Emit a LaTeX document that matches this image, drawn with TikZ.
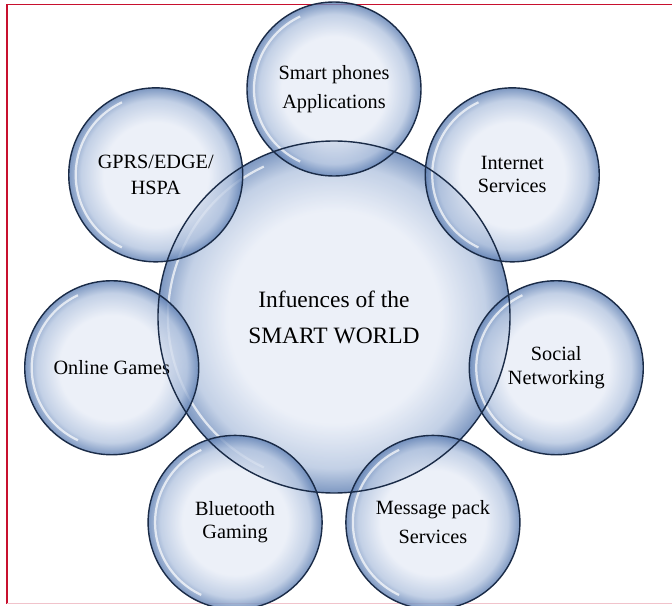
\documentclass[tikz,border=0pt]{standalone}
\usepackage{fontspec}
\setmainfont{Liberation Serif}
\usepackage{xcolor}
\usetikzlibrary{positioning}
\definecolor{bubcore}{HTML}{E8EDF7}
\definecolor{bubmid}{HTML}{B4C5E0}
\definecolor{bubrim}{HTML}{5E7FB3}
\definecolor{bubline}{HTML}{1A2B47}
\definecolor{framered}{HTML}{C8102E}
\pgfdeclareradialshading{bubble}{\pgfpoint{0bp}{0bp}}{color(0bp)=(bubcore); color(15bp)=(bubcore); color(21.5bp)=(bubmid); color(25bp)=(bubrim); color(50bp)=(bubrim)}

\begin{document}
\begin{tikzpicture}[
    bubble/.style={shape=circle, shading=bubble, fill opacity=0.8, text opacity=1, align=center, inner sep=0pt},
    glare/.style={path picture={\draw[white, opacity=.7, line width=1.6pt] (path picture bounding box.center) ++(115:#1) arc[start angle=115, end angle=245, radius=#1];}},
    hubnode/.style={bubble, minimum size=8.8cm, glare=4.15, font=\fontsize{16.7}{25.6}\selectfont},
    satnode/.style={bubble, minimum size=4.35cm, glare=2.0, font=\fontsize{14.4}{16.5}\selectfont},
    rimline/.style={draw=bubline, line width=1pt}
]
% page and frame
\useasboundingbox (-8.35,-7.2) rectangle (8.45,7.925);
\fill[white] (-8.35,-7.2) rectangle (8.45,7.925);
\draw[framered, line width=1.2pt] (8.6,7.8125) -- (-8.175,7.8125) -- (-8.175,-7.17);
\draw[framered!25, line width=0.8pt] (-8.175,-7.17) -- (8.6,-7.17);

% hub
\node[hubnode] (world) at (0,0) {Infuences of the\\SMART WORLD};

% satellites, 360/7 apart
\node[satnode] (phones) at (90:5.7) {Smart phones\\[4pt]Applications};
\node[satnode] (gprs) at (141.43:5.7) {GPRS/EDGE/\\[2pt]HSPA};
\node[satnode] (games) at (192.86:5.7) {Online Games};
\node[satnode] (bluetooth) at (244.29:5.7) {Bluetooth\\Gaming};
\node[satnode] (message) at (295.71:5.7) {Message pack\\[4pt]Services};
\node[satnode] (social) at (347.14:5.7) {Social\\Networking};
\node[satnode] (internet) at (38.57:5.7) {Internet\\Services};

% outlines on top so the overlaps show both rims
\draw[rimline] (world.center) circle[radius=4.4];
\foreach \n in {phones,gprs,games,bluetooth,message,social,internet}
  \draw[rimline] (\n.center) circle[radius=2.175];

\end{tikzpicture}
\end{document}
